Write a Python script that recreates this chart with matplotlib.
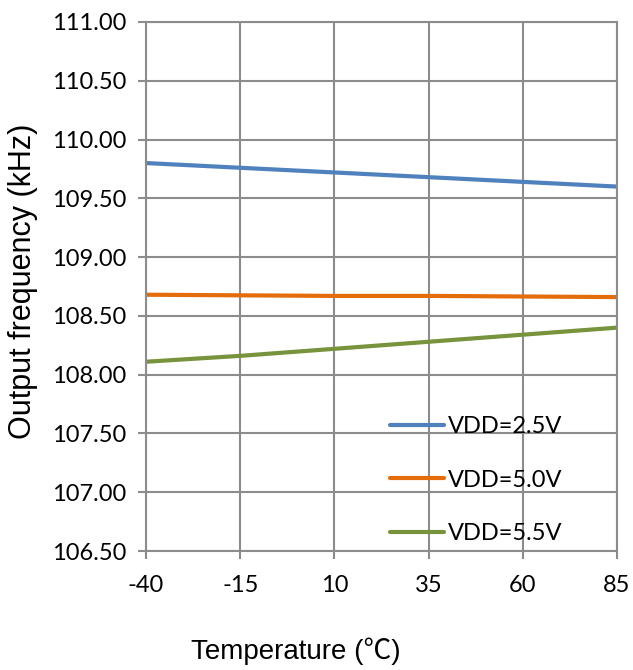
import matplotlib
matplotlib.use("Agg")
import matplotlib.pyplot as plt
import numpy as np

# data
temps = ["-40", "-15", "10", "35", "60", "85"]
vdd_25 = [109.80, 109.76, 109.72, 109.68, 109.64, 109.60]
vdd_50 = [108.68, 108.675, 108.67, 108.67, 108.665, 108.66]
vdd_55 = [108.11, 108.16, 108.22, 108.28, 108.34, 108.40]
labels = ["VDD=2.5V", "VDD=5.0V", "VDD=5.5V"]
colors = ["#4F81BD", "#E46C0A", "#77933C"]

tick_font = "Lato"
label_font = ["Liberation Sans", "Noto Sans CJK SC", "DejaVu Sans"]

fig = plt.figure(figsize=(6.33, 6.70), dpi=100)
ax = fig.add_axes([146/633, 1-551/670, (617-146)/633, (551-22)/670])

x = np.arange(len(temps))
for vals, lab, c in zip([vdd_25, vdd_50, vdd_55], labels, colors):
    ax.plot(x, vals, color=c, lw=3, label=lab, solid_capstyle="round")

ax.set_xlim(0, len(temps) - 1)
ax.set_ylim(106.5, 111.0)
ax.set_xticks(x)
ax.set_xticklabels(temps)
yt = np.arange(106.5, 111.01, 0.5)
ax.set_yticks(yt)
ax.set_yticklabels(["%.2f" % v for v in yt])

ax.grid(True, color="#8c8c8c", lw=1.5)
for s in ax.spines.values():
    s.set_color("#8c8c8c")
    s.set_linewidth(1.5)
ax.tick_params(axis="both", colors="#8c8c8c", width=1.5, length=6,
               labelcolor="black", labelsize=17)
ax.tick_params(axis="y", pad=8)
ax.tick_params(axis="x", pad=11)
for t in ax.get_xticklabels() + ax.get_yticklabels():
    t.set_family(tick_font)

ax.set_ylabel("Output frequency (kHz)", fontsize=22, family=label_font)
ax.yaxis.set_label_coords((38-146)/471, 0.51)
fig.text(296/633, 1-651/670, "Temperature (℃)", fontsize=20, family=label_font,
         ha="center", va="center")

leg = ax.legend(loc="upper left", bbox_to_anchor=((390-146)/471, 1-(416-22)/529),
                frameon=False, borderpad=0, borderaxespad=0,
                handlelength=2.3, handletextpad=0.15, labelspacing=1.38,
                prop={"family": tick_font, "size": 17})

fig.savefig("out.png", dpi=100)
